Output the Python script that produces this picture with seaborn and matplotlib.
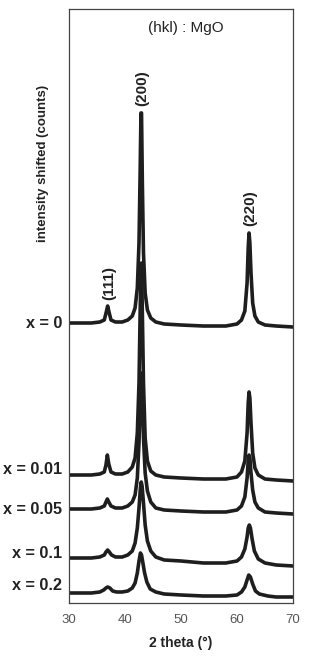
import matplotlib
matplotlib.use("Agg")
import matplotlib.pyplot as plt
import seaborn as sns
import pandas as pd

# ---- data (intensity in arbitrary shifted units) ----
samples = ["x = 0", "x = 0.01", "x = 0.05", "x = 0.1", "x = 0.2"]

tt_0 = [30, 32, 34, 35.5, 36.3, 36.7, 36.9, 37.1, 37.5, 38.3, 39.5, 40.5, 41.3, 41.8, 42.2, 42.5, 42.7,
        42.85, 42.95, 43.1, 43.3, 43.6, 44.0, 44.6, 45.5, 47, 50, 54, 58, 60, 60.8, 61.4, 61.8, 62.0,
        62.15, 62.3, 62.5, 62.8, 63.2, 63.8, 65, 67, 70]
int_0 = [280, 280, 280, 281, 283, 292, 297, 292, 283, 281, 281, 283, 287, 295, 315, 360, 430,
         490, 490, 420, 350, 310, 293, 285, 281, 279, 278, 277, 277, 279, 283, 292, 320, 355,
         370, 360, 330, 300, 287, 281, 278, 277, 276]

tt_001 = [30, 32, 34, 35.5, 36.3, 36.6, 36.85, 37.1, 37.5, 38.3, 39.5, 40.5, 41.3, 41.8, 42.2, 42.5, 42.7,
          42.85, 42.95, 43.1, 43.3, 43.6, 44.0, 44.6, 45.5, 47, 50, 54, 58, 60, 60.8, 61.4, 61.8, 62.0,
          62.15, 62.3, 62.5, 62.8, 63.2, 63.8, 65, 67, 70]
int_001 = [128, 128, 128, 129, 131, 138, 148, 139, 131, 129, 129, 131, 136, 145, 170, 220, 290,
           335, 340, 290, 220, 165, 142, 132, 128, 126, 125, 124, 124, 126, 131, 142, 170, 200,
           211, 205, 180, 150, 135, 128, 124, 123, 122]

tt_005 = [30, 32, 34, 35.5, 36.3, 36.6, 36.85, 37.1, 37.5, 38.3, 39.5, 40.5, 41.3, 41.8, 42.2, 42.5, 42.7,
          42.85, 42.95, 43.1, 43.3, 43.6, 44.0, 44.6, 45.5, 47, 50, 54, 58, 60, 60.8, 61.4, 61.8, 62.0,
          62.15, 62.3, 62.5, 62.8, 63.2, 63.8, 65, 67, 70]
int_005 = [94, 94, 94, 95, 97, 101, 104, 101, 97, 95, 95, 97, 101, 108, 125, 160, 200,
           226, 230, 205, 165, 130, 112, 101, 95, 93, 92, 91, 91, 93, 97, 106, 125, 142,
           148, 145, 130, 113, 101, 95, 91, 90, 89]

tt_01 = [30, 32, 34, 35.5, 36.3, 36.6, 36.9, 37.2, 37.6, 38.3, 39.5, 40.5, 41.3, 41.8, 42.2, 42.5, 42.75,
         42.9, 43.05, 43.3, 43.6, 44.0, 44.6, 45.5, 47, 50, 54, 58, 60, 60.8, 61.4, 61.8, 62.0,
         62.2, 62.4, 62.7, 63.1, 63.8, 65, 67, 70]
int_01 = [45, 45, 45, 46, 48, 51, 53, 51, 48, 46, 46, 48, 52, 60, 75, 95, 115,
          121, 117, 100, 78, 62, 52, 46, 43, 42, 40, 40, 42, 46, 54, 66, 75,
          78, 75, 64, 52, 44, 40, 38, 37]

tt_02 = [30, 32, 34, 35.5, 36.2, 36.6, 36.9, 37.3, 37.8, 38.5, 39.5, 40.5, 41.3, 41.8, 42.2, 42.5, 42.75,
         42.95, 43.2, 43.5, 43.9, 44.5, 45.5, 47, 50, 54, 58, 60, 60.8, 61.4, 61.8, 62.1,
         62.4, 62.8, 63.3, 64, 65.5, 67, 70]
int_02 = [10, 10, 10, 11, 13, 15, 16, 15, 12, 11, 11, 12, 15, 20, 30, 42, 50,
          48, 40, 30, 21, 14, 11, 9, 8, 7, 7, 8, 11, 16, 23, 28,
          26, 19, 12, 9, 7, 6, 6]

label_levels = [280, 134, 94, 49, 17]

peak_labels = ["(111)", "(200)", "(220)"]
peak_pos = [37.1, 43.0, 62.3]
peak_label_y = [320, 515, 395]

xticks = [30, 40, 50, 60, 70]

# ---- build long table ----
frames = []
for name, tt, it in zip(samples, [tt_0, tt_001, tt_005, tt_01, tt_02],
                        [int_0, int_001, int_005, int_01, int_02]):
    frames.append(pd.DataFrame({"two_theta": tt, "intensity": it, "sample": name}))
df = pd.concat(frames, ignore_index=True)

sns.set_style("white")
plt.rcParams["font.family"] = ["Liberation Sans", "DejaVu Sans"]

fig = plt.figure(figsize=(3.09, 6.70), dpi=100)
ax = fig.add_axes([69 / 309, 67 / 670, 224 / 309, 594 / 670])

sns.lineplot(data=df, x="two_theta", y="intensity", hue="sample",
             palette=["#1e1e1e"] * len(samples), legend=False, sort=False,
             estimator=None, linewidth=2.6, ax=ax)

ax.set_xlim(30, 70)
ax.set_ylim(0, 594)
ax.set_xticks(xticks)
ax.set_xticklabels([str(t) for t in xticks], fontsize=9.5, color="#555555")
ax.set_yticks([])
ax.set_xlabel("2 theta (°)", fontsize=10, fontweight="bold", color="#222222", labelpad=7)
ax.set_ylabel("")
ax.tick_params(axis="x", direction="out", length=3, width=0.8, color="#444444", pad=5)
ax.tick_params(axis="y", left=False)
for s in ax.spines.values():
    s.set_color("#444444")
    s.set_linewidth(0.9)

# sample labels
for name, lvl in zip(samples, label_levels):
    ax.text(-0.03, lvl, name, transform=ax.get_yaxis_transform(), ha="right", va="center",
            fontsize=11.7, fontweight="bold", color="#222222")

# peak labels
for lab, x, y in zip(peak_labels, peak_pos, peak_label_y):
    ax.text(x, y, lab, rotation=90, ha="center", va="center", fontsize=11,
            fontweight="bold", color="#222222")

ax.text(0.52, 0.968, "(hkl) : MgO", transform=ax.transAxes, ha="center", va="center",
        fontsize=11, color="#222222")

fig.text(43 / 309, 1 - 163 / 670, "intensity shifted (counts)", rotation=90, ha="center",
         va="center", fontsize=9.5, fontweight="bold", color="#222222")

fig.savefig("out.png", dpi=100, facecolor="white")
